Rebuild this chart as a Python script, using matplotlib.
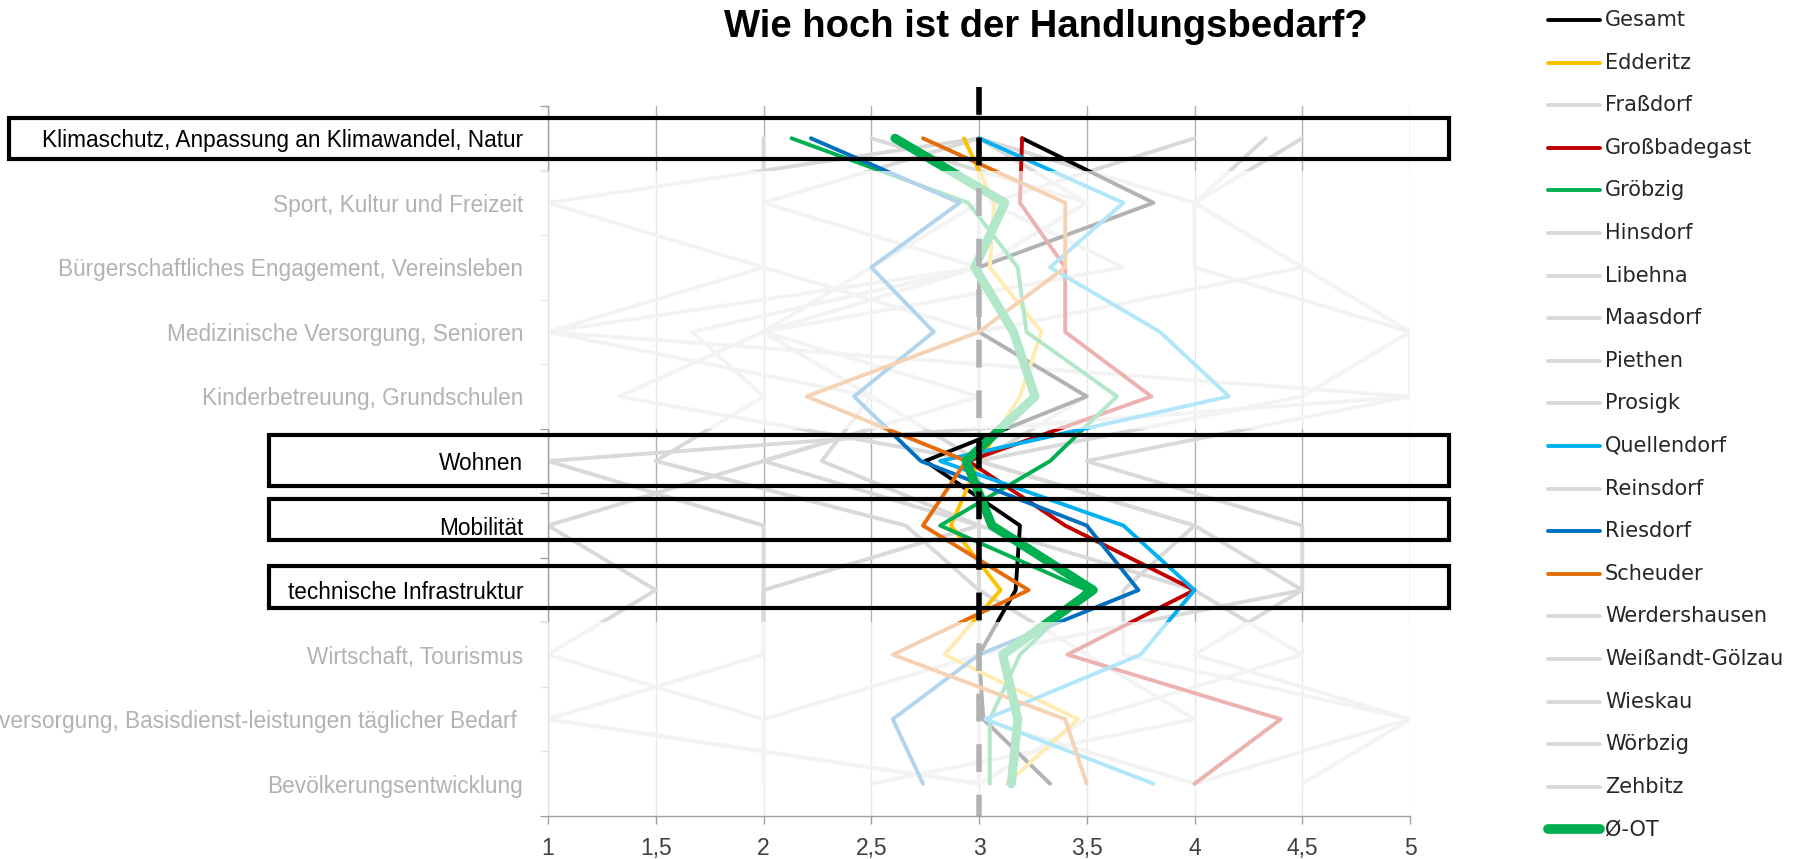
import matplotlib
matplotlib.use("Agg")
import matplotlib.pyplot as plt
from matplotlib.lines import Line2D
from matplotlib.patches import Rectangle
from matplotlib.transforms import blended_transform_factory

W, H = 1801, 859

plt.rcParams["font.family"] = ["Liberation Sans", "DejaVu Sans"]

TITLE = "Wie hoch ist der Handlungsbedarf?"

CATEGORIES = [
    "Klimaschutz, Anpassung an Klimawandel, Natur",
    "Sport, Kultur und Freizeit",
    "Bürgerschaftliches Engagement, Vereinsleben",
    "Medizinische Versorgung, Senioren",
    "Kinderbetreuung, Grundschulen",
    "Wohnen",
    "Mobilität",
    "technische Infrastruktur",
    "Wirtschaft, Tourismus",
    "versorgung, Basisdienst-leistungen täglicher Bedarf ",
    "Bevölkerungsentwicklung",
]
HIGHLIGHTED = [0, 5, 6, 7]

X_TICKS = [1, 1.5, 2, 2.5, 3, 3.5, 4, 4.5, 5]
X_TICK_LABELS = ["1", "1,5", "2", "2,5", "3", "3,5", "4", "4,5", "5"]

# values per category, top to bottom
GESAMT = [3.2, 3.81, 3.0, 3.0, 3.5, 2.75, 3.19, 3.17, 3.0, 3.02, 3.33]
EDDERITZ = [2.93, 3.07, 3.05, 3.29, 3.19, 3.0, 2.87, 3.1, 2.84, 3.46, 3.13]
FRASSDORF = [2.0, 2.0, 3.0, 1.0, 5.0, 1.0, 2.0, 2.0, 2.0, 1.0, 3.0]
GROSSBADEGAST = [3.2, 3.19, 3.4, 3.4, 3.8, 2.95, 3.4, 4.0, 3.41, 4.4, 4.0]
GROEBZIG = [2.13, 2.95, 3.18, 3.22, 3.64, 3.33, 2.82, 3.5, 3.19, 3.05, 3.05]
HINSDORF = [3.0, 1.0, 2.0, 3.0, 3.0, 2.0, 1.0, 1.5, 1.0, 2.0, 2.0]
LIBEHNA = [4.0, 3.05, 3.67, 2.0, 1.33, 3.0, 3.0, 3.0, 3.0, 3.0, 3.0]
MAASDORF = [4.5, 4.0, 4.5, 5.0, 5.0, 3.5, 4.5, 4.5, 4.0, 5.0, 4.5]
PIETHEN = [4.33, 4.0, 4.0, 5.0, 4.5, 3.0, 4.0, 3.67, 3.67, 5.0, 4.0]
PROSIGK = [2.5, 3.5, 3.0, 1.67, 2.0, 1.5, 2.66, 3.0, 3.5, 4.0, 2.5]
QUELLENDORF = [3.0, 3.67, 3.33, 3.84, 4.16, 2.82, 3.67, 4.0, 3.75, 3.03, 3.81]
REINSDORF = [3.0, 3.0, 2.5, 2.0, 2.5, 2.27, 3.0, 2.0, 2.0, 1.0, 3.0]
RIESDORF = [2.22, 2.91, 2.5, 2.79, 2.42, 2.73, 3.5, 3.74, 3.0, 2.6, 2.74]
SCHEUDER = [2.74, 3.4, 3.4, 3.0, 2.2, 2.94, 2.74, 3.23, 2.6, 3.4, 3.5]
WERDERSHAUSEN = [3.0, 3.0, 3.0, 3.0, 3.5, 3.0, 3.0, 4.0, 4.5, 3.5, 3.0]
WEISSANDT = [3.0, 4.0, 4.5, 3.0, 3.0, 3.0, 4.0, 4.5, 3.0, 3.0, 4.0]
WIESKAU = [3.0, 2.0, 2.0, 1.0, 2.5, 3.0, 3.0, 3.0, 3.0, 2.0, 2.0]
WOERBZIG = [3.0, 3.5, 3.0, 3.0, 3.0, 2.0, 3.0, 3.0, 3.0, 3.0, 3.0]
ZEHBITZ = [3.0, 3.0, 3.0, 2.0, 3.0, 3.0, 3.0, 3.0, 3.0, 3.0, 3.0]
OT_MEAN = [2.61, 3.12, 2.98, 3.16, 3.26, 2.94, 3.06, 3.53, 3.11, 3.18, 3.15]

GRAY = "#d9d9d9"
SERIES = [
    ("Gesamt", GESAMT, "#000000", 2.8),
    ("Edderitz", EDDERITZ, "#ffc000", 2.8),
    ("Fraßdorf", FRASSDORF, GRAY, 2.8),
    ("Großbadegast", GROSSBADEGAST, "#c00000", 2.8),
    ("Gröbzig", GROEBZIG, "#00b050", 2.8),
    ("Hinsdorf", HINSDORF, GRAY, 2.8),
    ("Libehna", LIBEHNA, GRAY, 2.8),
    ("Maasdorf", MAASDORF, GRAY, 2.8),
    ("Piethen", PIETHEN, GRAY, 2.8),
    ("Prosigk", PROSIGK, GRAY, 2.8),
    ("Quellendorf", QUELLENDORF, "#00b0f0", 2.8),
    ("Reinsdorf", REINSDORF, GRAY, 2.8),
    ("Riesdorf", RIESDORF, "#0070c0", 2.8),
    ("Scheuder", SCHEUDER, "#e46c0a", 2.8),
    ("Werdershausen", WERDERSHAUSEN, GRAY, 2.8),
    ("Weißandt-Gölzau", WEISSANDT, GRAY, 2.8),
    ("Wieskau", WIESKAU, GRAY, 2.8),
    ("Wörbzig", WOERBZIG, GRAY, 2.8),
    ("Zehbitz", ZEHBITZ, GRAY, 2.8),
    ("Ø-OT", OT_MEAN, "#00b050", 6.5),
]

# highlight boxes: category index, left edge (px), top/bottom offsets
BOXES = [(0, 9, -0.32, 0.32), (5, 269, -0.41, 0.38), (6, 269, -0.41, 0.23), (7, 269, -0.37, 0.28)]


def main():
    fig = plt.figure(figsize=(W / 100, H / 100), dpi=100)
    ax = fig.add_axes([548 / W, 1 - 816 / H, 862 / W, 710 / H])
    positions = list(range(len(CATEGORIES)))

    for name, values, color, lw in SERIES:
        ax.plot(values, positions, color=color, lw=lw,
                solid_joinstyle="round", solid_capstyle="round",
                zorder=2 if color == GRAY else 3)

    # reference line at 3, reaching above the plot
    ax.plot([3, 3], [-0.79, len(CATEGORIES) - 0.5], color="black", lw=4,
            dashes=(5.0, 4.1), clip_on=False, zorder=4)

    ax.set_xlim(1, 5)
    ax.set_ylim(len(CATEGORIES) - 0.5, -0.5)
    ax.set_xticks(X_TICKS)
    ax.set_xticklabels(X_TICK_LABELS, fontsize=16.5, color="#404040")
    ax.set_yticks(positions)
    ax.set_yticklabels(CATEGORIES, fontsize=16.3, color="black")
    ax.set_yticks([p - 0.5 for p in positions] + [len(CATEGORIES) - 0.5], minor=True)
    ax.tick_params(axis="y", which="major", length=0, pad=18)
    ax.tick_params(axis="y", which="minor", length=6, color="#a0a0a0", width=1)
    ax.tick_params(axis="x", length=6, color="#a0a0a0", width=1, pad=9)
    ax.grid(True, axis="x", color="#b0b0b0", lw=1)
    for side in ("top", "right"):
        ax.spines[side].set_visible(False)
    for side in ("left", "bottom"):
        ax.spines[side].set_color("#a0a0a0")
        ax.spines[side].set_linewidth(1)
    ax.spines["bottom"].set_zorder(6)

    # fade everything outside the highlighted categories
    blend = blended_transform_factory(fig.transFigure, ax.transData)
    for i in positions:
        if i in HIGHLIGHTED:
            continue
        ax.add_patch(Rectangle((0, i - 0.5), 1420 / W, 1.0, transform=blend,
                               facecolor="white", edgecolor="none", alpha=0.7,
                               clip_on=False, zorder=5))

    for idx, left, top, bottom in BOXES:
        ax.add_patch(Rectangle((left / W, idx + top), (1449 - left) / W, bottom - top,
                               transform=blend, facecolor="none", edgecolor="black",
                               lw=3, clip_on=False, zorder=6))

    ax.set_xlim(1, 5)
    ax.set_ylim(len(CATEGORIES) - 0.5, -0.5)

    fig.text(1046 / W, 1 - 27 / H, TITLE, ha="center", va="center",
             fontsize=27.5, fontweight="bold", color="black")

    # legend drawn by hand to keep the row spacing of the original
    for i, (name, values, color, lw) in enumerate(SERIES):
        y = 1 - (20 + i * 42.6) / H
        fig.add_artist(Line2D([1548 / W, 1600 / W], [y, y], color=color,
                              lw=7 if lw > 3 else 2.8, solid_capstyle="round"))
        fig.text(1605 / W, y, name, ha="left", va="center", fontsize=15,
                 family=["DejaVu Sans"], color="#262626")

    fig.savefig("out.png", dpi=100)
    plt.close(fig)


if __name__ == "__main__":
    main()
